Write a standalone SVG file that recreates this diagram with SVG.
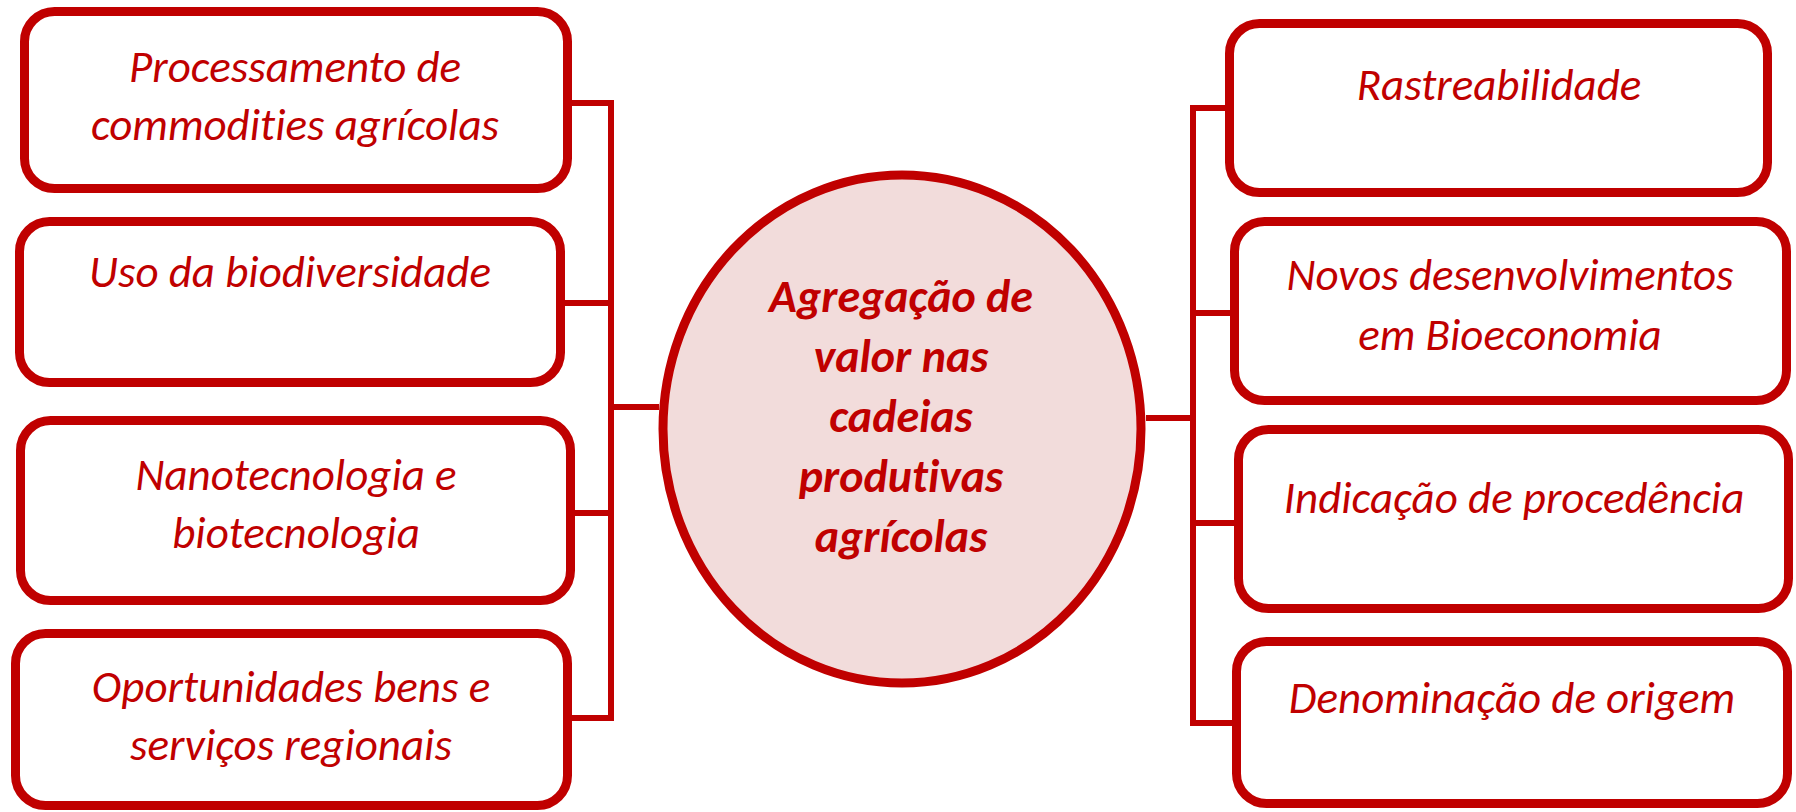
<svg xmlns="http://www.w3.org/2000/svg" width="1796" height="812" viewBox="0 0 1796 812">
<style>
.box{fill:#ffffff;stroke:#C00000;stroke-width:9}
.lbl{font-family:Carlito,Lato,"Liberation Sans",sans-serif;font-style:italic;font-size:45px;fill:#C00000;text-anchor:middle;font-variant-ligatures:none}
.ctr{font-family:Carlito,Lato,"Liberation Sans",sans-serif;font-style:italic;font-weight:bold;font-size:46px;fill:#C00000;text-anchor:middle;font-variant-ligatures:none}
.con{fill:none;stroke:#C00000;stroke-width:6}
</style>
<rect width="1796" height="812" fill="#ffffff"/>
<g id="connectors">
<path class="con" d="M572 103H611M565 303H611M575 513H611M572 718H611M611 100V721M611 407H659"/>
<path class="con" d="M1225 108H1193M1230 313H1193M1234 523H1193M1232 723H1193M1193 105V726M1146 418H1193"/>
</g>
<g id="center">
<ellipse cx="902" cy="429" rx="239" ry="254" fill="#F2DCDB" stroke="#C00000" stroke-width="9"/>
<text class="ctr" x="901" y="312">Agregação de</text>
<text class="ctr" x="901" y="372">valor nas</text>
<text class="ctr" x="901" y="432">cadeias</text>
<text class="ctr" x="901" y="492">produtivas</text>
<text class="ctr" x="901" y="552">agrícolas</text>
</g>
<g id="n1">
<rect class="box" x="24.5" y="11.5" width="543" height="177" rx="30"/>
<text class="lbl" x="295" y="82">Processamento de</text>
<text class="lbl" x="295" y="140">commodities agrícolas</text>
</g>
<g id="n2">
<rect class="box" x="19.5" y="221.5" width="541" height="161" rx="30"/>
<text class="lbl" x="290" y="287">Uso da biodiversidade</text>
</g>
<g id="n3">
<rect class="box" x="20.5" y="420.5" width="550" height="180" rx="30"/>
<text class="lbl" x="296" y="490">Nanotecnologia e</text>
<text class="lbl" x="296" y="548">biotecnologia</text>
</g>
<g id="n4">
<rect class="box" x="15.5" y="633.5" width="552" height="172" rx="30"/>
<text class="lbl" x="291" y="702">Oportunidades bens e</text>
<text class="lbl" x="291" y="760">serviços regionais</text>
</g>
<g id="n5">
<rect class="box" x="1229.5" y="23.5" width="538" height="169" rx="30"/>
<text class="lbl" x="1499" y="100">Rastreabilidade</text>
</g>
<g id="n6">
<rect class="box" x="1234.5" y="221.5" width="552" height="179" rx="30"/>
<text class="lbl" x="1510" y="290">Novos desenvolvimentos</text>
<text class="lbl" x="1510" y="350">em Bioeconomia</text>
</g>
<g id="n7">
<rect class="box" x="1238.5" y="429.5" width="550" height="179" rx="30"/>
<text class="lbl" x="1514" y="513">Indicação de procedência</text>
</g>
<g id="n8">
<rect class="box" x="1236.5" y="641.5" width="551" height="162" rx="30"/>
<text class="lbl" x="1512" y="713">Denominação de origem</text>
</g>
</svg>
